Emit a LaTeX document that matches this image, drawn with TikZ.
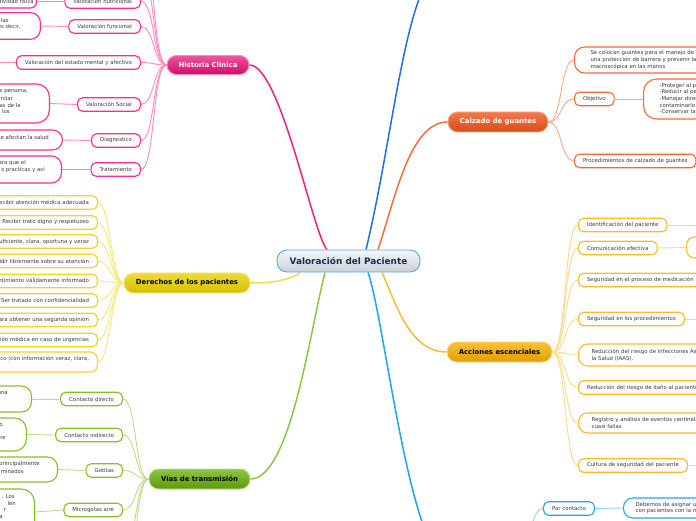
\documentclass[tikz,border=0pt]{standalone}
\usepackage{fontspec}
\setmainfont{DejaVu Sans}
\usetikzlibrary{backgrounds}
\definecolor{txt}{HTML}{3C3C3C}
\definecolor{pk}{HTML}{FF2A8E}\definecolor{pkl}{HTML}{FF8AC0}\definecolor{pkm}{HTML}{F0207E}
\definecolor{pkt}{HTML}{F2559F}\definecolor{pkb}{HTML}{D20A68}
\definecolor{yl}{HTML}{F2D422}\definecolor{yll}{HTML}{F7E67A}\definecolor{ylt}{HTML}{EEDB3C}
\definecolor{ylb}{HTML}{D6BE00}\definecolor{ylm}{HTML}{F2DC4A}
\definecolor{gn}{HTML}{88C024}\definecolor{gnl}{HTML}{BCDD8C}\definecolor{gnt}{HTML}{8DC63F}
\definecolor{gnb}{HTML}{5C9A08}\definecolor{gnm}{HTML}{8CC63F}
\definecolor{or}{HTML}{F26A3B}\definecolor{orl}{HTML}{FBA88A}\definecolor{ort}{HTML}{F27A4C}
\definecolor{orb}{HTML}{D94A1B}\definecolor{orm}{HTML}{F46D3E}
\definecolor{gd}{HTML}{F9BC24}\definecolor{gdl}{HTML}{FCD98C}\definecolor{gdt}{HTML}{F9C338}
\definecolor{gdb}{HTML}{E39D00}\definecolor{gdm}{HTML}{F8BE30}
\definecolor{cy}{HTML}{1DA9EF}\definecolor{cyl}{HTML}{8CD3F6}\definecolor{cym}{HTML}{1AA7EE}
\definecolor{bl}{HTML}{1F6FE0}
\definecolor{ctop}{HTML}{F5F7F9}\definecolor{cbot}{HTML}{C9D0D7}\definecolor{cbor}{HTML}{59A5E3}
\definecolor{ctxt}{HTML}{1C2B4F}
\tikzset{
 base/.style={font=\fontsize{5.4}{6.6}\selectfont, text=txt},
 sub/.style={base, draw, line width=1.1pt, fill=white, rounded corners=5pt, minimum height=13.5pt, inner xsep=8.5pt, inner ysep=1pt},
 subtwo/.style={sub, rounded corners=9pt, align=left, inner xsep=12pt, inner ysep=2pt},
 leafbox/.style={draw, line width=1.1pt, fill=white, rounded corners=10pt},
 frag/.style={base, inner sep=0pt},
 mainnode/.style={rounded corners=9.5pt, minimum height=20pt, font=\bfseries\fontsize{6.9}{8}\selectfont, line width=0.9pt},
 conn/.style={line width=0.9pt},
 mainconn/.style={line width=1.5pt},
}
\begin{document}
\begin{tikzpicture}[x=1pt,y=1pt]
\useasboundingbox (0,0) rectangle (696,520);
% ---------- main nodes
\node[mainnode, top color=ctop, bottom color=cbot, draw=cbor, text=ctxt, minimum width=143pt, minimum height=22pt, rounded corners=10pt, font=\bfseries\fontsize{8.9}{10}\selectfont] (vp) at (348.5,259) {Valoración del Paciente};
\node[mainnode, top color=pkt, bottom color=pkb, draw=pkl, text=white, minimum width=82pt, minimum height=19pt] (hc) at (208,455) {Historia Clinica};
\node[mainnode, top color=ylt, bottom color=ylb, draw=yll, text=black, minimum width=126pt] (der) at (187,237) {Derechos de los pacientes};
\node[mainnode, top color=gnt, bottom color=gnb, draw=gnl, text=black, minimum width=101pt] (vias) at (199.5,41) {Vías de transmisión};
\node[mainnode, top color=ort, bottom color=orb, draw=orl, text=white, minimum width=100pt] (calz) at (498,398) {Calzado de guantes};
\node[mainnode, top color=gdt, bottom color=gdb, draw=gdl, text=black, minimum width=105pt] (acc) at (499.5,168) {Acciones escenciales};
% ---------- off-canvas ends
\coordinate (bt) at (445,560);
\coordinate (cyp) at (450,-42);
\coordinate (pcp) at (515,-42);
\coordinate (hx1) at (141,545);
\coordinate (hx2) at (141,575);
\coordinate (hml) at (-10,457.5);
\coordinate (vx1) at (123,-30);
\coordinate (vx2) at (123,-65);
\coordinate (a1x) at (720,295);
\coordinate (a4x) at (720,201);
\coordinate (a8x) at (720,54.5);
% ---------- Historia Clinica
\node[sub, draw=pk, anchor=east] (hn) at (141,518.5) {Valoración nutricional};
\node[sub, draw=pk, anchor=east] (hf) at (141,493.5) {Valoración funcional};
\node[sub, draw=pk, anchor=east] (hm) at (141,457.5) {Valoración del estado mental y afectivo};
\node[sub, draw=pk, anchor=east] (hs) at (141,415.5) {Valoración Social};
\node[sub, draw=pk, anchor=east] (hd) at (141,379.5) {Diagnostico};
\node[sub, draw=pk, anchor=east] (ht) at (141,350.5) {Tratamiento};
\node[leafbox, draw=pk, anchor=east, minimum width=80pt, minimum height=13pt, rounded corners=6pt] (hnl) at (37,518.5) {};
\node[frag, anchor=east] (hnlt) at (34,519) {actividad física};
\node[leafbox, draw=pk, anchor=east, minimum width=80pt, minimum height=26.6pt] (hfl) at (41,494) {};
\node[frag, anchor=east] (hflt1) at (9,500) {las};
\node[frag, anchor=east] (hflt2) at (21,493) {es decir,};
\node[leafbox, draw=pk, anchor=east, minimum width=90pt, minimum height=39pt, rounded corners=13pt] (hsl) at (50,416.5) {};
\node[frag, anchor=east] (hslt1) at (28,428) {s persona,};
\node[frag, anchor=east] (hslt2) at (13,422) {nilar};
\node[frag, anchor=east] (hslt3) at (21,415) {as de la};
\node[frag, anchor=east] (hslt4) at (10,409) {los};
\node[leafbox, draw=pk, anchor=east, minimum width=100pt, minimum height=20pt] (hdl) at (63,380) {};
\node[frag, anchor=east] (hdlt) at (49,383) {e afectan la salud};
\node[leafbox, draw=pk, anchor=east, minimum width=100pt, minimum height=27pt] (htl) at (62,350.5) {};
\node[frag, anchor=east] (htlt1) at (26,357) {ara que el};
\node[frag, anchor=east] (htlt2) at (45,350) {s practicas y así};
% ---------- Derechos
\node[sub, draw=yl, anchor=east] (d1) at (98,317.5) {Recibir atención médica adecuada};
\node[sub, draw=yl, anchor=east] (d2) at (98,297.5) {Recibir trato digno y respetuoso};
\node[sub, draw=yl, anchor=east] (d3) at (98,278.5) {Recibir información suficiente, clara, oportuna y veraz};
\node[sub, draw=yl, anchor=east] (d4) at (98,259) {Decidir libremente sobre su atención};
\node[sub, draw=yl, anchor=east] (d5) at (98,239) {Otorgar o no su consentimiento válidamente informado};
\node[sub, draw=yl, anchor=east] (d6) at (98,219.5) {Ser tratado con confidencialidad};
\node[sub, draw=yl, anchor=east] (d7) at (98,200) {Contar con facilidades para obtener una segunda opinión};
\node[sub, draw=yl, anchor=east] (d8) at (98,180) {Recibir atención médica en caso de urgencias};
\node[sub, draw=yl, anchor=east, align=left, minimum height=20pt, rounded corners=7pt] (d9) at (98,158) {Contar con un expediente clínico (con información veraz, clara,\\precisa, legible y completa)};
% ---------- Vias de transmision
\node[sub, draw=gn, anchor=east] (vd) at (123,121) {Contacto directo};
\node[sub, draw=gn, anchor=east] (vi) at (123,85) {Contacto indirecto};
\node[sub, draw=gn, anchor=east] (vg) at (123,49.5) {Gotitas};
\node[sub, draw=gn, anchor=east] (vm) at (123,10) {Microgotas aire};
\node[leafbox, draw=gn, anchor=east, minimum width=80pt, minimum height=26pt] (vdl) at (32,121) {};
\node[frag, anchor=east] (vdlt) at (8,127) {ona};
\node[leafbox, draw=gn, anchor=east, minimum width=80pt, minimum height=33pt, rounded corners=12pt] (vil) at (27,85.5) {};
\node[frag, anchor=east] (vilt1) at (3,95) {o};
\node[frag, anchor=east] (vilt2) at (6,82) {re};
\node[leafbox, draw=gn, anchor=east, minimum width=100pt, minimum height=25pt] (vgl) at (58,50.5) {};
\node[frag, anchor=east] (vglt1) at (40,56) {principalmente};
\node[frag, anchor=east] (vglt2) at (24,49) {minados};
\node[leafbox, draw=gn, anchor=east, minimum width=80pt, minimum height=46pt, rounded corners=13pt] (vml) at (35,8) {};
\node[frag, anchor=east] (vmlt1) at (15,23) {. Los};
\node[frag, anchor=east] (vmlt2) at (16,17) {len};
\node[frag, anchor=east] (vmlt3) at (6,10) {r};
\node[frag, anchor=east] (vmlt4) at (3,3) {a};
% ---------- Calzado de guantes
\node[sub, draw=or, anchor=west, align=left, inner xsep=16pt, minimum height=26pt, rounded corners=10pt] (c1) at (574,460) {Se colocan guantes para el manejo de material estéril,\\una protección de barrera y prevenir la contaminación\\macroscópica en las manos};
\node[sub, draw=or, anchor=west] (c2) at (574,421) {Objetivo};
\node[sub, draw=or, anchor=west, align=left, inner xsep=16pt, minimum height=40pt, rounded corners=13pt] (c2l) at (643,421) {-Proteger al paciente\\-Reducir al personal\\-Manejar directamente material sin\\contaminarlo\\-Conservar la asepsia};
\node[sub, draw=or, anchor=west] (c3) at (574,359) {Procedimientos de calzado de guantes};
% ---------- Acciones escenciales
\node[sub, draw=gd, anchor=west] (a1) at (578,295) {Identificación del paciente};
\node[sub, draw=gd, anchor=west] (a2) at (578,272) {Comunicación efectiva};
\node[leafbox, draw=gd, anchor=west, minimum width=60pt, minimum height=21pt, rounded corners=8pt] (a2l) at (686,272.5) {};
\node[sub, draw=gd, anchor=west] (a3) at (578,240) {Seguridad en el proceso de medicación};
\node[sub, draw=gd, anchor=west] (a4) at (578,201) {Seguridad en los procedimientos};
\node[subtwo, draw=gd, anchor=west, minimum height=22pt, inner xsep=13pt] (a5) at (578,165) {Reducción del riesgo de Infecciones Asociadas a la Atención de\\la Salud (IAAS).};
\node[sub, draw=gd, anchor=west] (a6) at (578,132.5) {Reducción del riesgo de daño al paciente por causa de caídas};
\node[subtwo, draw=gd, anchor=west, minimum height=20pt, inner xsep=13pt] (a7) at (578,97) {Registro y análisis de eventos centinela, eventos adversos y\\cuasi fallas};
\node[sub, draw=gd, anchor=west] (a8) at (578,54.5) {Cultura de seguridad del paciente};
% ---------- cyan branch
\node[sub, draw=cy, anchor=west] (pc) at (543,11.5) {Por contacto};
\node[subtwo, draw=cy, anchor=west, minimum height=20pt] (pcl) at (623,12) {Debemos de asignar una habitación individual\\con pacientes con la misma infección};
% ---------- connectors
\begin{scope}[on background layer]
\draw[mainconn, pkm] ([xshift=-21.5pt]vp.north) .. controls +(-14,15) and +(31,0) .. (hc.east);
\draw[mainconn, bl] ([xshift=17.5pt]vp.north) .. controls +(29,120) and +(-40,-20) .. (bt);
\draw[mainconn, orm] ([xshift=29.5pt]vp.north) .. controls +(17,50) and +(-38,0) .. (calz.west);
\draw[mainconn, ylm] ([xshift=-48pt]vp.south) .. controls +(-10,-8) and +(20,0) .. (der.east);
\draw[mainconn, gnm] ([xshift=-23.5pt]vp.south) .. controls +(-15,-58) and +(40,0) .. (vias.east);
\draw[mainconn, cym] ([xshift=19.5pt]vp.south) .. controls +(17,-48) and +(-40,0) .. (cyp);
\draw[mainconn, gdm] ([xshift=33.5pt]vp.south) .. controls +(13,-28) and +(-38,0) .. (acc.west);
% Historia
\foreach \t in {hx1,hx2,hn,hf,hm,hs,hd,ht}
  \draw[conn, pkl] (hc.west) .. controls +(-14,0) and +(14,0) .. (\t.east);
\draw[conn, pkl] (hn.west) -- (hnl.east);
\draw[conn, pkl] (hf.west) -- (hfl.east);
\draw[conn, pkl] (hm.west) -- (hml);
\draw[conn, pkl] (hs.west) -- (hsl.east);
\draw[conn, pkl] (hd.west) -- (hdl.east);
\draw[conn, pkl] (ht.west) -- (htl.east);
% Derechos
\foreach \t in {d1,d2,d3,d4,d5,d6,d7,d8,d9}
  \draw[conn, yll] (der.west) .. controls +(-12,0) and +(12,0) .. (\t.east);
% Vias
\foreach \t in {vd,vi,vg,vm,vx1,vx2}
  \draw[conn, gnl] (vias.west) .. controls +(-14,0) and +(14,0) .. (\t.east);
\draw[conn, gnl] (vd.west) -- (vdl.east);
\draw[conn, gnl] (vi.west) -- (vil.east);
\draw[conn, gnl] (vg.west) -- (vgl.east);
\draw[conn, gnl] (vm.west) -- (vml.east);
% Calzado
\foreach \t in {c1,c2,c3}
  \draw[conn, orl] (calz.east) .. controls +(14,0) and +(-14,0) .. (\t.west);
\draw[conn, orl] (c2.east) -- (c2l.west);
% Acciones
\foreach \t in {a1,a2,a3,a4,a5,a6,a7,a8}
  \draw[conn, gdl] (acc.east) .. controls +(14,0) and +(-14,0) .. (\t.west);
\draw[conn, gdl] (a1.east) -- (a1x);
\draw[conn, gdl] (a2.east) -- (a2l.west);
\draw[conn, gdl] (a4.east) -- (a4x);
\draw[conn, gdl] (a8.east) -- (a8x);
% cyan
\draw[conn, cyl] (pcp) .. controls +(14,0) and +(-14,0) .. (pc.west);
\draw[conn, cyl] (pc.east) -- (pcl.west);
\end{scope}
\end{tikzpicture}
\end{document}
